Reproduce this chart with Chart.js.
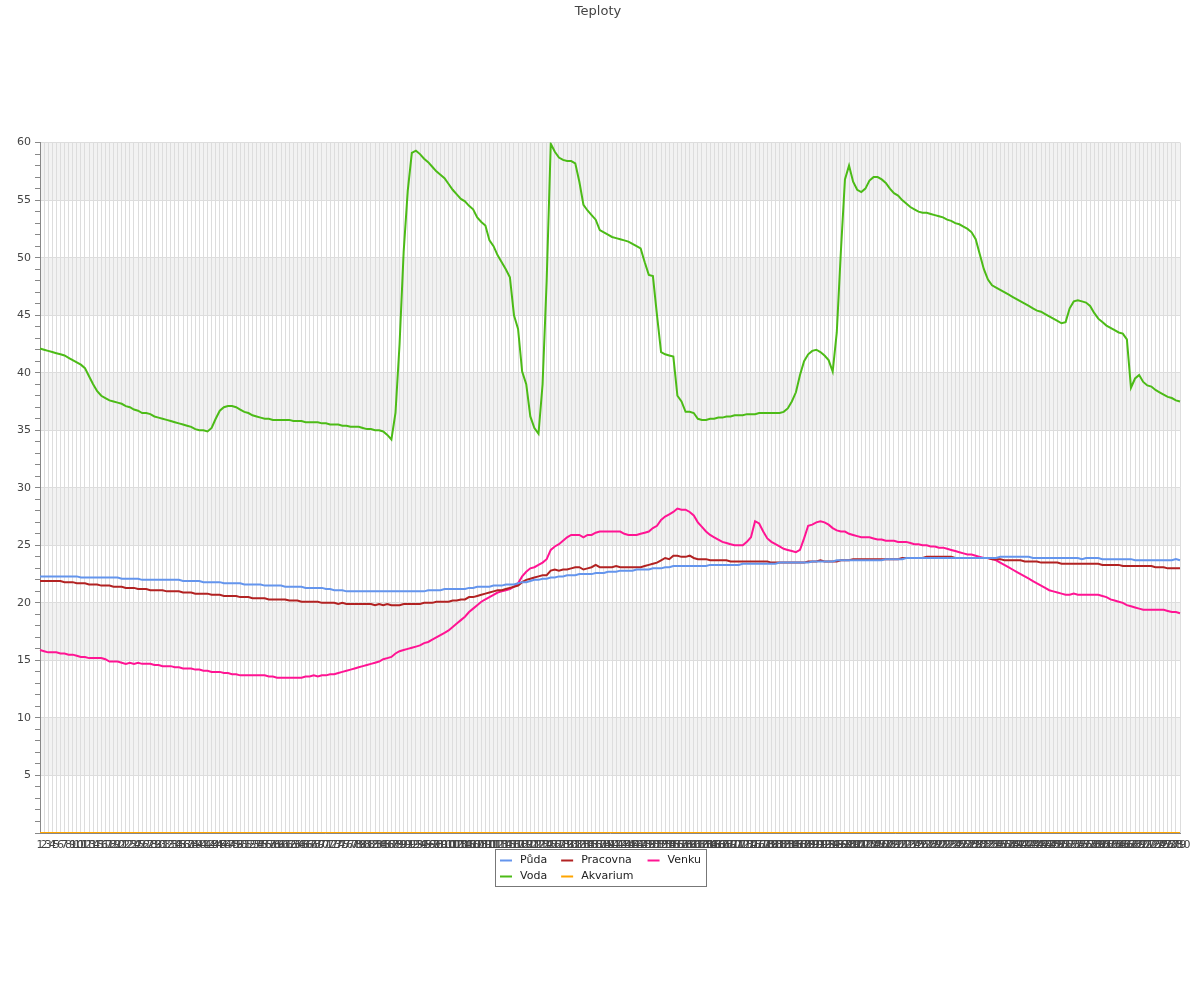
<!DOCTYPE html>
<html><head><meta charset="utf-8">
<script src="https://cdn.jsdelivr.net/npm/chart.js@4/dist/chart.umd.min.js"></script>
<style>html,body{margin:0;padding:0;background:#fff}#wrap{width:1200px;height:1000px;position:relative}canvas{display:block}</style>
</head><body><div id="wrap"><canvas id="c" width="1200" height="1000"></canvas></div>
<script>
const chartTitle = 'Teploty';
const seriesNames = ['Půda', 'Pracovna', 'Venku', 'Voda', 'Akvarium'];
const yTickLabels = [5, 10, 15, 20, 25, 30, 35, 40, 45, 50, 55, 60];

const puda = [
22.3,22.3,22.3,22.3,22.3,22.3,22.3,22.3,22.3,22.3,
22.2,22.2,22.2,22.2,22.2,22.2,22.2,22.2,22.2,22.2,
22.1,22.1,22.1,22.1,22.1,22.0,22.0,22.0,22.0,22.0,
22.0,22.0,22.0,22.0,22.0,21.9,21.9,21.9,21.9,21.9,
21.8,21.8,21.8,21.8,21.8,21.7,21.7,21.7,21.7,21.7,
21.6,21.6,21.6,21.6,21.6,21.5,21.5,21.5,21.5,21.5,
21.4,21.4,21.4,21.4,21.4,21.3,21.3,21.3,21.3,21.3,
21.2,21.2,21.1,21.1,21.1,21.0,21.0,21.0,21.0,21.0,
21.0,21.0,21.0,21.0,21.0,21.0,21.0,21.0,21.0,21.0,
21.0,21.0,21.0,21.0,21.0,21.1,21.1,21.1,21.1,21.2,
21.2,21.2,21.2,21.2,21.2,21.3,21.3,21.4,21.4,21.4,
21.4,21.5,21.5,21.5,21.6,21.6,21.6,21.7,21.8,21.8,
21.9,22.0,22.0,22.1,22.1,22.2,22.2,22.3,22.3,22.4,
22.4,22.4,22.5,22.5,22.5,22.5,22.6,22.6,22.6,22.7,
22.7,22.7,22.8,22.8,22.8,22.8,22.9,22.9,22.9,22.9,
23.0,23.0,23.0,23.1,23.1,23.2,23.2,23.2,23.2,23.2,
23.2,23.2,23.2,23.2,23.3,23.3,23.3,23.3,23.3,23.3,
23.3,23.3,23.4,23.4,23.4,23.4,23.4,23.4,23.4,23.4,
23.4,23.5,23.5,23.5,23.5,23.5,23.5,23.5,23.5,23.6,
23.6,23.6,23.6,23.6,23.6,23.7,23.7,23.7,23.7,23.7,
23.7,23.7,23.7,23.7,23.7,23.7,23.7,23.8,23.8,23.8,
23.8,23.8,23.9,23.9,23.9,23.9,23.9,23.9,23.9,23.9,
23.9,23.9,23.9,23.9,23.9,23.9,23.9,23.9,23.9,23.9,
23.9,23.9,23.9,23.9,23.9,24.0,24.0,24.0,24.0,24.0,
24.0,24.0,24.0,23.9,23.9,23.9,23.9,23.9,23.9,23.9,
23.9,23.9,23.9,23.9,23.9,23.8,23.9,23.9,23.9,23.9,
23.8,23.8,23.8,23.8,23.8,23.8,23.8,23.8,23.7,23.7,
23.7,23.7,23.7,23.7,23.7,23.7,23.7,23.7,23.8,23.7
];

const pracovna = [
21.9,21.9,21.9,21.9,21.9,21.9,21.8,21.8,21.8,21.7,
21.7,21.7,21.6,21.6,21.6,21.5,21.5,21.5,21.4,21.4,
21.4,21.3,21.3,21.3,21.2,21.2,21.2,21.1,21.1,21.1,
21.1,21.0,21.0,21.0,21.0,20.9,20.9,20.9,20.8,20.8,
20.8,20.8,20.7,20.7,20.7,20.6,20.6,20.6,20.6,20.5,
20.5,20.5,20.4,20.4,20.4,20.4,20.3,20.3,20.3,20.3,
20.3,20.2,20.2,20.2,20.1,20.1,20.1,20.1,20.1,20.0,
20.0,20.0,20.0,19.9,20.0,19.9,19.9,19.9,19.9,19.9,
19.9,19.9,19.8,19.9,19.8,19.9,19.8,19.8,19.8,19.9,
19.9,19.9,19.9,19.9,20.0,20.0,20.0,20.1,20.1,20.1,
20.1,20.2,20.2,20.3,20.3,20.5,20.5,20.6,20.7,20.8,
20.9,21.0,21.1,21.1,21.2,21.3,21.4,21.5,21.8,22.0,
22.1,22.2,22.3,22.4,22.4,22.8,22.9,22.8,22.9,22.9,
23.0,23.1,23.1,22.9,23.0,23.1,23.3,23.1,23.1,23.1,
23.1,23.2,23.1,23.1,23.1,23.1,23.1,23.1,23.2,23.3,
23.4,23.5,23.7,23.9,23.8,24.1,24.1,24.0,24.0,24.1,
23.9,23.8,23.8,23.8,23.7,23.7,23.7,23.7,23.7,23.6,
23.6,23.6,23.6,23.6,23.6,23.6,23.6,23.6,23.6,23.5,
23.5,23.5,23.5,23.5,23.5,23.5,23.5,23.5,23.6,23.6,
23.6,23.7,23.6,23.6,23.6,23.6,23.7,23.7,23.7,23.8,
23.8,23.8,23.8,23.8,23.8,23.8,23.8,23.8,23.8,23.8,
23.8,23.9,23.9,23.9,23.9,23.9,23.9,24.0,24.0,24.0,
24.0,24.0,24.0,24.0,23.9,23.9,23.9,23.9,23.9,23.9,
23.9,23.9,23.9,23.8,23.8,23.8,23.7,23.7,23.7,23.7,
23.7,23.6,23.6,23.6,23.6,23.5,23.5,23.5,23.5,23.5,
23.4,23.4,23.4,23.4,23.4,23.4,23.4,23.4,23.4,23.4,
23.3,23.3,23.3,23.3,23.3,23.2,23.2,23.2,23.2,23.2,
23.2,23.2,23.2,23.1,23.1,23.1,23.0,23.0,23.0,23.0
];

const venku = [
15.9,15.8,15.7,15.7,15.7,15.6,15.6,15.5,15.5,15.4,
15.3,15.3,15.2,15.2,15.2,15.2,15.1,14.9,14.9,14.9,
14.8,14.7,14.8,14.7,14.8,14.7,14.7,14.7,14.6,14.6,
14.5,14.5,14.5,14.4,14.4,14.3,14.3,14.3,14.2,14.2,
14.1,14.1,14.0,14.0,14.0,13.9,13.9,13.8,13.8,13.7,
13.7,13.7,13.7,13.7,13.7,13.7,13.6,13.6,13.5,13.5,
13.5,13.5,13.5,13.5,13.5,13.6,13.6,13.7,13.6,13.7,
13.7,13.8,13.8,13.9,14.0,14.1,14.2,14.3,14.4,14.5,
14.6,14.7,14.8,14.9,15.1,15.2,15.3,15.6,15.8,15.9,
16.0,16.1,16.2,16.3,16.5,16.6,16.8,17.0,17.2,17.4,
17.6,17.9,18.2,18.5,18.8,19.2,19.5,19.8,20.1,20.3,
20.5,20.7,20.9,21.0,21.1,21.2,21.4,21.7,22.3,22.7,
23.0,23.1,23.3,23.5,23.8,24.6,24.9,25.1,25.4,25.7,
25.9,25.9,25.9,25.7,25.9,25.9,26.1,26.2,26.2,26.2,
26.2,26.2,26.2,26.0,25.9,25.9,25.9,26.0,26.1,26.2,
26.5,26.7,27.2,27.5,27.7,27.9,28.2,28.1,28.1,27.9,
27.6,27.0,26.6,26.2,25.9,25.7,25.5,25.3,25.2,25.1,
25.0,25.0,25.0,25.3,25.7,27.1,26.9,26.2,25.6,25.3,
25.1,24.9,24.7,24.6,24.5,24.4,24.6,25.6,26.7,26.8,
27.0,27.1,27.0,26.8,26.5,26.3,26.2,26.2,26.0,25.9,
25.8,25.7,25.7,25.7,25.6,25.5,25.5,25.4,25.4,25.4,
25.3,25.3,25.3,25.2,25.1,25.1,25.0,25.0,24.9,24.9,
24.8,24.8,24.7,24.6,24.5,24.4,24.3,24.2,24.2,24.1,
24.0,23.9,23.9,23.8,23.7,23.5,23.3,23.1,22.9,22.7,
22.5,22.3,22.1,21.9,21.7,21.5,21.3,21.1,21.0,20.9,
20.8,20.7,20.7,20.8,20.7,20.7,20.7,20.7,20.7,20.7,
20.6,20.5,20.3,20.2,20.1,20.0,19.8,19.7,19.6,19.5,
19.4,19.4,19.4,19.4,19.4,19.4,19.3,19.2,19.2,19.1
];

const voda = [
42.1,42.0,41.9,41.8,41.7,41.6,41.5,41.3,41.1,40.9,
40.7,40.4,39.7,39.0,38.4,38.0,37.8,37.6,37.5,37.4,
37.3,37.1,37.0,36.8,36.7,36.5,36.5,36.4,36.2,36.1,
36.0,35.9,35.8,35.7,35.6,35.5,35.4,35.3,35.1,35.0,
35.0,34.9,35.2,36.0,36.7,37.0,37.1,37.1,37.0,36.8,
36.6,36.5,36.3,36.2,36.1,36.0,36.0,35.9,35.9,35.9,
35.9,35.9,35.8,35.8,35.8,35.7,35.7,35.7,35.7,35.6,
35.6,35.5,35.5,35.5,35.4,35.4,35.3,35.3,35.3,35.2,
35.1,35.1,35.0,35.0,34.9,34.6,34.2,36.5,42.5,50.5,
55.8,59.1,59.3,59.0,58.6,58.3,57.9,57.5,57.2,56.9,
56.4,55.9,55.5,55.1,54.9,54.5,54.2,53.5,53.1,52.8,
51.5,51.0,50.2,49.6,49.0,48.3,45.0,43.8,40.1,39.0,
36.2,35.2,34.7,39.0,48.0,59.9,59.2,58.7,58.5,58.4,
58.4,58.2,56.6,54.6,54.1,53.7,53.3,52.4,52.2,52.0,
51.8,51.7,51.6,51.5,51.4,51.2,51.0,50.8,49.6,48.5,
48.4,45.0,41.8,41.6,41.5,41.4,38.0,37.5,36.6,36.6,
36.5,36.0,35.9,35.9,36.0,36.0,36.1,36.1,36.2,36.2,
36.3,36.3,36.3,36.4,36.4,36.4,36.5,36.5,36.5,36.5,
36.5,36.5,36.6,36.9,37.5,38.3,39.8,41.0,41.6,41.9,
42.0,41.8,41.5,41.1,40.1,43.5,50.5,56.8,58.0,56.6,
55.9,55.7,56.0,56.7,57.0,57.0,56.8,56.5,56.0,55.6,
55.4,55.0,54.7,54.4,54.2,54.0,53.9,53.9,53.8,53.7,
53.6,53.5,53.3,53.2,53.0,52.9,52.7,52.5,52.2,51.6,
50.3,49.0,48.1,47.6,47.4,47.2,47.0,46.8,46.6,46.4,
46.2,46.0,45.8,45.6,45.4,45.3,45.1,44.9,44.7,44.5,
44.3,44.4,45.6,46.2,46.3,46.2,46.1,45.8,45.2,44.7,
44.4,44.1,43.9,43.7,43.5,43.4,42.9,38.7,39.5,39.8,
39.2,38.9,38.8,38.5,38.3,38.1,37.9,37.8,37.6,37.5
];

const akvarium = [
0,0,0,0,0,0,0,0,0,0,0,0,0,0,0,0,0,0,0,0,
0,0,0,0,0,0,0,0,0,0,0,0,0,0,0,0,0,0,0,0,
0,0,0,0,0,0,0,0,0,0,0,0,0,0,0,0,0,0,0,0,
0,0,0,0,0,0,0,0,0,0,0,0,0,0,0,0,0,0,0,0,
0,0,0,0,0,0,0,0,0,0,0,0,0,0,0,0,0,0,0,0,
0,0,0,0,0,0,0,0,0,0,0,0,0,0,0,0,0,0,0,0,
0,0,0,0,0,0,0,0,0,0,0,0,0,0,0,0,0,0,0,0,
0,0,0,0,0,0,0,0,0,0,0,0,0,0,0,0,0,0,0,0,
0,0,0,0,0,0,0,0,0,0,0,0,0,0,0,0,0,0,0,0,
0,0,0,0,0,0,0,0,0,0,0,0,0,0,0,0,0,0,0,0,
0,0,0,0,0,0,0,0,0,0,0,0,0,0,0,0,0,0,0,0,
0,0,0,0,0,0,0,0,0,0,0,0,0,0,0,0,0,0,0,0,
0,0,0,0,0,0,0,0,0,0,0,0,0,0,0,0,0,0,0,0,
0,0,0,0,0,0,0,0,0,0,0,0,0,0,0,0,0,0,0,0
];

const categories = puda.map((_, i) => String(i + 1));

const seriesColors = ['#6495ED', '#B22222', '#FF1493', '#4CBB17', '#FFA500'];
const seriesData = [puda, pracovna, venku, voda, akvarium];

Chart.defaults.font.family = '"DejaVu Sans", sans-serif';

const bandsPlugin = {
  id: 'bands',
  beforeDraw(chart) {
    const { ctx, chartArea, scales } = chart;
    const y = scales.y;
    ctx.save();
    ctx.fillStyle = '#f2f2f2';
    for (let v = 5; v < 60; v += 10) {
      const top = y.getPixelForValue(v + 5);
      const bot = y.getPixelForValue(v);
      ctx.fillRect(chartArea.left, top, chartArea.right - chartArea.left, bot - top);
    }
    ctx.restore();
  }
};

const boxLegendPlugin = {
  id: 'boxLegend',
  afterDraw(chart) {
    const ctx = chart.ctx;
    ctx.save();
    ctx.font = '11px "DejaVu Sans"';
    const rows = [[0, 1, 2], [3, 4]];
    const cols = 3;
    const marker = 12, mgap = 8, gap = 14, padX = 5;
    const colW = [];
    for (let c = 0; c < cols; c++) {
      let m = 0;
      rows.forEach(r => { if (r[c] !== undefined) m = Math.max(m, ctx.measureText(seriesNames[r[c]]).width); });
      colW.push(marker + mgap + m);
    }
    const totalW = padX * 2 + colW.reduce((a, b) => a + b, 0) + gap * (cols - 1);
    const cx = chart.width / 2;
    const x0 = Math.round(cx - totalW / 2);
    const y0 = 849, h = 37;
    ctx.strokeStyle = '#777';
    ctx.lineWidth = 1;
    ctx.strokeRect(x0 + 0.5, y0 + 0.5, Math.round(totalW), h);
    ctx.textBaseline = 'middle';
    ctx.fillStyle = '#222';
    rows.forEach((r, ri) => {
      const yy = y0 + 11 + ri * 16;
      let xx = x0 + padX;
      r.forEach((si, c) => {
        ctx.strokeStyle = seriesColors[si];
        ctx.lineWidth = 2;
        ctx.beginPath();
        ctx.moveTo(xx, yy + 0.5);
        ctx.lineTo(xx + marker, yy + 0.5);
        ctx.stroke();
        ctx.fillStyle = '#222';
        ctx.fillText(seriesNames[si], xx + marker + mgap, yy);
        xx += colW[c] + gap;
      });
    });
    ctx.restore();
  }
};

new Chart(document.getElementById('c'), {
  type: 'line',
  data: {
    labels: categories,
    datasets: seriesNames.map((name, i) => ({
      label: name,
      data: seriesData[i],
      borderColor: seriesColors[i],
      backgroundColor: seriesColors[i],
      borderWidth: 2,
      pointRadius: 0,
      tension: 0,
      fill: false
    }))
  },
  options: {
    responsive: false,
    animation: false,
    devicePixelRatio: 1,
    layout: { padding: { left: 16, right: 20, top: 0, bottom: 147 } },
    plugins: {
      legend: { display: false },
      tooltip: { enabled: false },
      title: {
        display: true,
        text: chartTitle,
        color: '#444',
        font: { size: 13, weight: 'normal' },
        padding: { top: 4, bottom: 123 }
      }
    },
    scales: {
      x: {
        grid: { color: '#dddddd', drawTicks: false, lineWidth: 1 },
        border: { color: '#888' },
        ticks: { autoSkip: false, maxRotation: 0, minRotation: 0, padding: 6, color: '#444', font: { size: 11 } },
        afterFit(s) { s.height = 20; }
      },
      y: {
        min: 0, max: 60,
        grid: {
          color: c => (c.tick && c.tick.value % 5 === 0) ? '#dddddd' : 'rgba(0,0,0,0)',
          tickColor: '#888',
          tickLength: 5,
          drawTicks: true
        },
        border: { color: '#888' },
        ticks: {
          stepSize: 1, autoSkip: false, padding: 4, color: '#444', font: { size: 11 },
          callback: v => yTickLabels.includes(v) ? String(v) : ''
        },
        afterFit(s) { s.width = 24; }
      }
    }
  },
  plugins: [bandsPlugin, boxLegendPlugin]
});
</script>
</body></html>
